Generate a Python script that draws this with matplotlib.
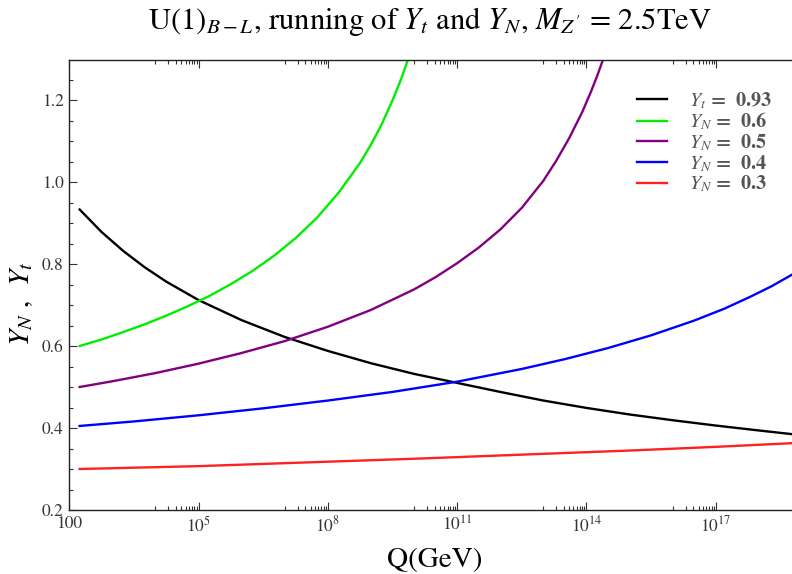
import numpy as np
import matplotlib
matplotlib.use("Agg")
import matplotlib.pyplot as plt
from matplotlib.ticker import FixedLocator, FixedFormatter, NullFormatter

plt.rcParams['font.family'] = ['STIXGeneral', 'DejaVu Serif']
plt.rcParams['mathtext.fontset'] = 'stix'

# ---- data (log10 Q in GeV, coupling value) ----
yt_logq = [2.24, 2.75, 3.25, 3.75, 4.25, 5.0, 6.0, 7.0, 8.0, 9.0, 10.0, 11.0, 12.0,
           13.0, 14.0, 15.0, 16.0, 17.0, 18.0, 18.77]
yt_val = [0.933, 0.878, 0.832, 0.792, 0.757, 0.712, 0.663, 0.622, 0.588, 0.558, 0.532, 0.510, 0.488,
          0.467, 0.449, 0.433, 0.419, 0.406, 0.394, 0.385]

yn06_logq = [2.24, 2.75, 3.25, 3.75, 4.25, 4.75, 5.25, 5.75, 6.25, 6.75, 7.25, 7.75, 8.25,
             8.75, 9.0, 9.25, 9.5, 9.7, 9.87]
yn06_val = [0.600, 0.616, 0.634, 0.653, 0.674, 0.697, 0.722, 0.751, 0.783, 0.820, 0.863, 0.913, 0.974,
            1.047, 1.091, 1.141, 1.199, 1.251, 1.302]

yn05_logq = [2.24, 3.0, 4.0, 5.0, 6.0, 7.0, 8.0, 9.0, 10.0, 10.5, 11.0, 11.5, 12.0, 12.5,
             13.0, 13.3, 13.6, 13.9, 14.1, 14.25, 14.39]
yn05_val = [0.500, 0.514, 0.534, 0.557, 0.583, 0.612, 0.647, 0.688, 0.738, 0.768, 0.802, 0.840, 0.884, 0.937,
            1.003, 1.052, 1.107, 1.170, 1.219, 1.259, 1.300]

yn04_logq = [2.24, 3.5, 5.0, 6.5, 8.0, 9.5, 11.0, 12.5, 13.5, 14.5, 15.5, 16.5, 17.2, 17.8, 18.3, 18.77]
yn04_val = [0.405, 0.416, 0.431, 0.448, 0.467, 0.488, 0.513, 0.544, 0.568, 0.595, 0.626, 0.662, 0.691, 0.720,
            0.746, 0.774]

yn03_logq = [2.24, 5.0, 7.5, 10.0, 12.5, 15.0, 17.0, 18.77]
yn03_val = [0.300, 0.307, 0.316, 0.325, 0.335, 0.345, 0.354, 0.363]

series = [
    (yt_logq, yt_val, 'black', r'$Y_t$ =  0.93'),
    (yn06_logq, yn06_val, '#00ee00', r'$Y_N$ =  0.6'),
    (yn05_logq, yn05_val, '#800080', r'$Y_N$ =  0.5'),
    (yn04_logq, yn04_val, '#0000ff', r'$Y_N$ =  0.4'),
    (yn03_logq, yn03_val, '#ff2020', r'$Y_N$ =  0.3'),
]

major_exps = [2, 5, 8, 11, 14, 17]
major_labels = ['100', r'$10^{5}$', r'$10^{8}$', r'$10^{11}$', r'$10^{14}$', r'$10^{17}$']
y_major = [0.2, 0.4, 0.6, 0.8, 1.0, 1.2]

W, H = 792, 574
fig = plt.figure(figsize=(W / 100, H / 100), dpi=100)
x0, x1 = 69.3, 792
y0, y1 = 510, 60
ax = fig.add_axes([x0 / W, 1 - y0 / H, (x1 - x0) / W, (y0 - y1) / H])

for lq, v, c, lab in series:
    ax.plot(10 ** np.array(lq), v, color=c, lw=1.7, label=lab,
            solid_joinstyle='round')

ax.set_xscale('log')
ax.set_xlim(100, 10 ** 18.77)
ax.set_ylim(0.2, 1.2976)

ax.xaxis.set_major_locator(FixedLocator([10.0 ** e for e in major_exps]))
ax.xaxis.set_major_formatter(FixedFormatter(major_labels))
minors = []
for e in major_exps[1:]:
    minors += [k * 10.0 ** (e - 1) for k in range(1, 10)]
ax.xaxis.set_minor_locator(FixedLocator(minors))
ax.xaxis.set_minor_formatter(NullFormatter())

ax.yaxis.set_major_locator(FixedLocator(y_major))
ax.yaxis.set_major_formatter(FixedFormatter(['%.1f' % v for v in y_major]))
ax.yaxis.set_minor_locator(FixedLocator(np.arange(0.25, 1.3, 0.05)))

ax.tick_params(which='both', direction='in', top=True, right=False, colors='#333333',
               labelsize=12.5, width=0.8)
ax.tick_params(which='major', length=6)
ax.tick_params(which='minor', length=3)
ax.tick_params(axis='y', pad=4)
ax.tick_params(axis='x', pad=4)
for s in ['left', 'bottom', 'top']:
    ax.spines[s].set_color('#222222')
    ax.spines[s].set_linewidth(1.0)
ax.spines['right'].set_visible(False)

fig.text(430 / W, 1 - 22 / H,
         r"U(1)$_{B-L}$, running of $Y_t$ and $Y_N$, $M_{Z'}$ = 2.5TeV",
         ha='center', va='center', fontsize=22)
fig.text(435 / W, 1 - 560 / H, 'Q(GeV)', ha='center', va='center', fontsize=21)
fig.text(22 / W, 1 - 304 / H, r'$Y_N$ ,  $Y_t$', ha='center', va='center',
         rotation=90, fontsize=21)

leg = ax.legend(loc='upper left', bbox_to_anchor=((637 - x0) / (x1 - x0), (y0 - 90) / (y0 - y1)),
                frameon=False, borderpad=0, borderaxespad=0,
                handlelength=1.5, handletextpad=1.1, labelspacing=0.0,
                prop={'size': 14.5, 'weight': 'bold'}, labelcolor='#555555')

fig.savefig('out.png', dpi=100)
